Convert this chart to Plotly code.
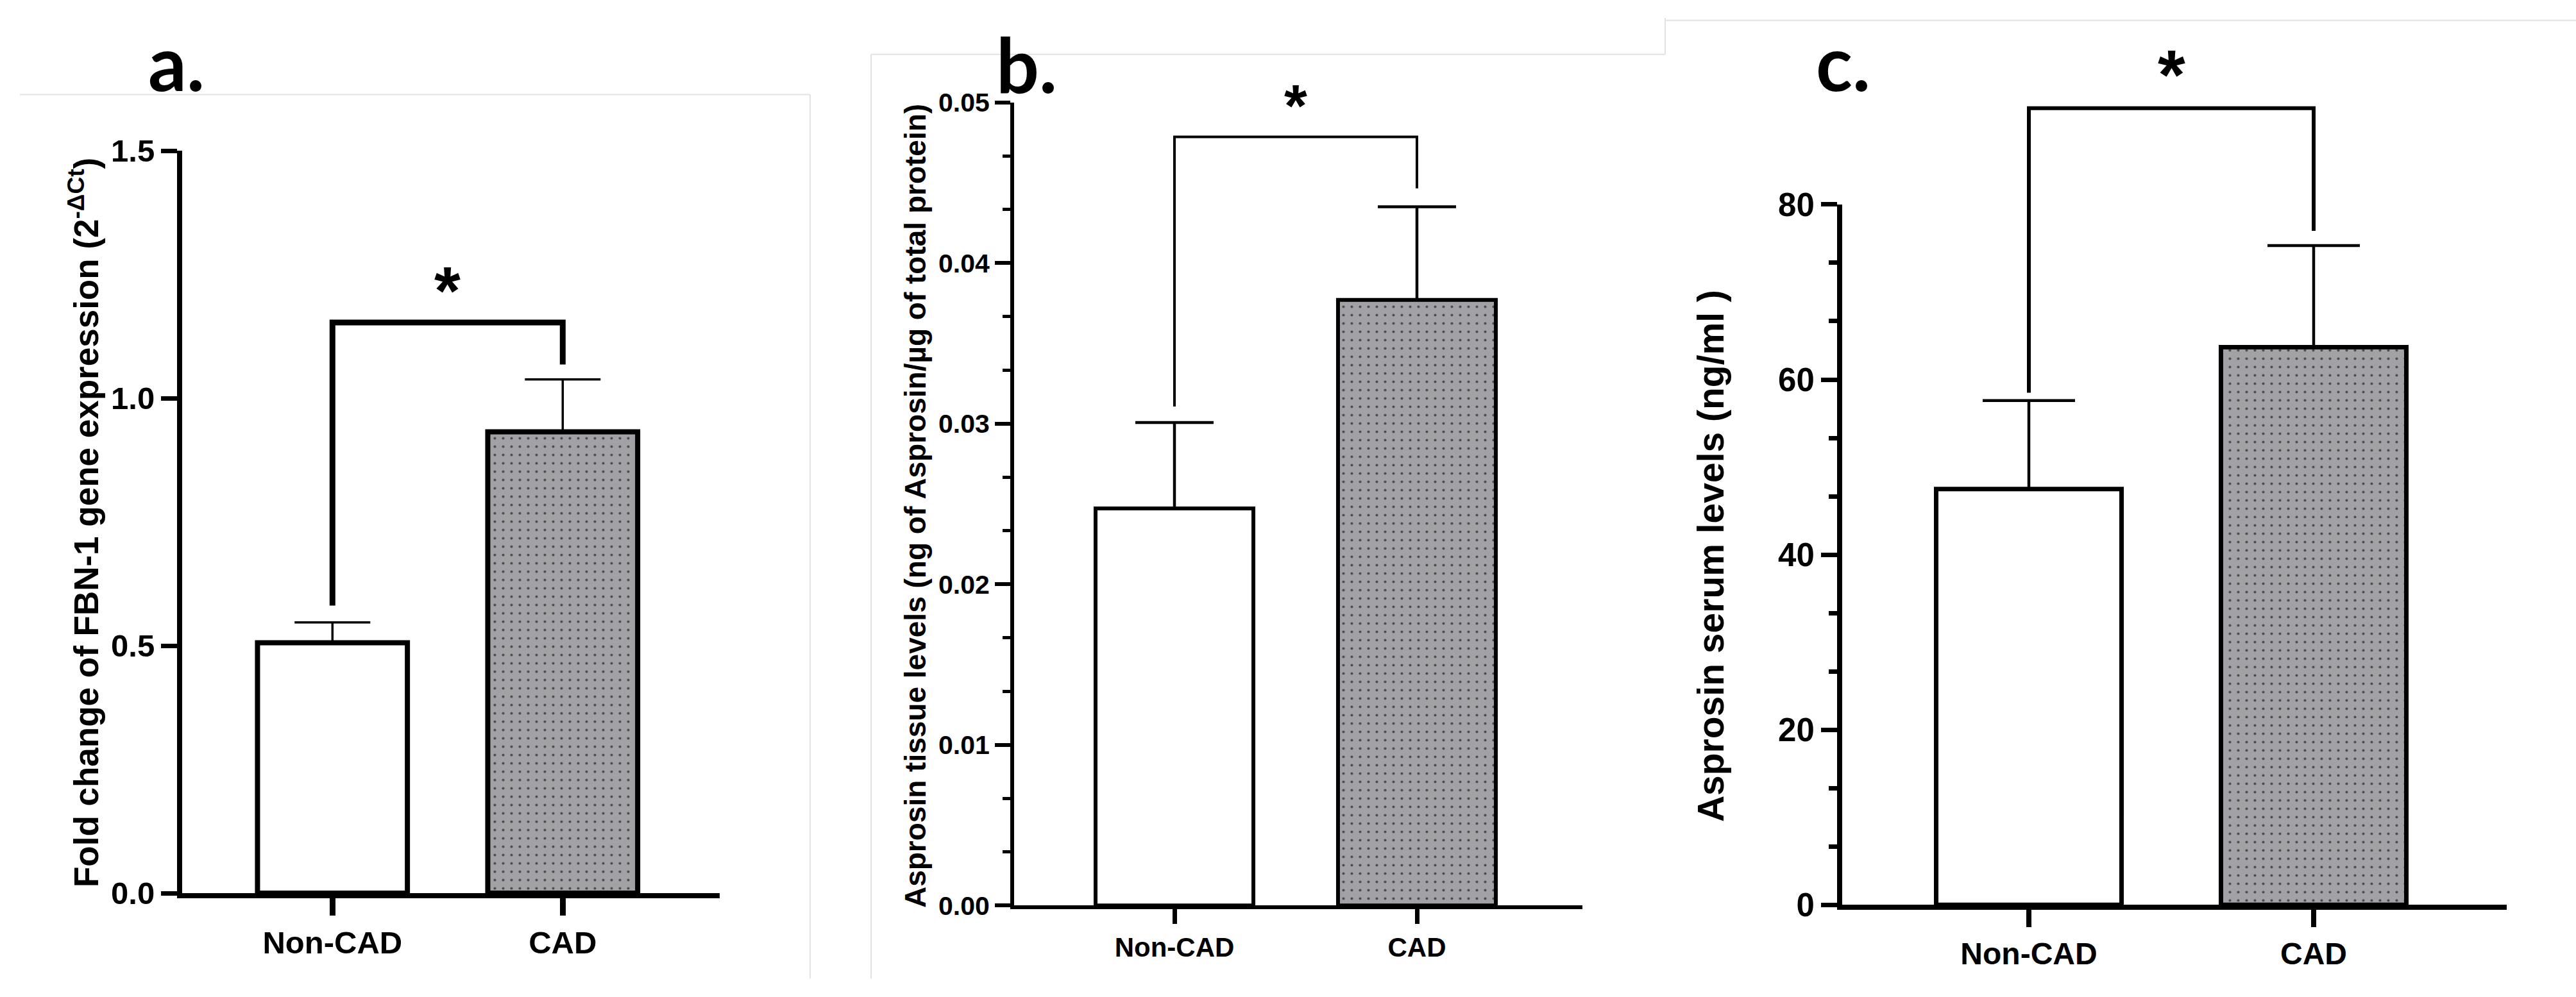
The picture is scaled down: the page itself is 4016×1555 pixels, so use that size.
import plotly.graph_objects as go

W, H = 4016, 1555

# ---------------- data ----------------
categories = ["Non-CAD", "CAD"]

# a. FBN-1 fold change
fbn1_mean = [0.506, 0.932]
fbn1_sem = [0.041, 0.106]
fbn1_bracket_top = 1.153
fbn1_bracket_ends = [0.581, 1.068]
fbn1_star = 1.21
fbn1_ticks = [0.0, 0.5, 1.0, 1.5]

# b. Asprosin tissue levels
tissue_mean = [0.02473, 0.03771]
tissue_sem = [0.00535, 0.00580]
tissue_bracket_top = 0.04786
tissue_bracket_ends = [0.03107, 0.04466]
tissue_star = 0.0496
tissue_ticks = [0.00, 0.01, 0.02, 0.03, 0.04, 0.05]

# c. Asprosin serum levels
serum_mean = [47.5, 63.7]
serum_sem = [10.1, 11.6]
serum_bracket_top = 91.0
serum_bracket_ends = [58.5, 77.0]
serum_star = 94.5
serum_ticks = [0, 20, 40, 60, 80]

panel_letters = ["a.", "b.", "c."]
y_titles = [
    "Fold change of FBN-1 gene expression (2<sup>-\u0394Ct</sup>)",
    "Asprosin tissue levels (ng of Asprosin/\u00b5g of total protein)",
    "Asprosin serum levels (ng/ml )",
]

# ---------------- layout / style per panel (pixel geometry) ----------------
panels = [
    dict(mean=fbn1_mean, sem=fbn1_sem, btop=fbn1_bracket_top, bends=fbn1_bracket_ends,
         star=fbn1_star, ticks=fbn1_ticks, fmt=".1f", minor=None,
         axis_x=280, axis_y=1421, top=215, right=1122, c0=518.3, c1=877.3,
         lw=8, bar_lw=8, tick_len=25, tick_w=7, xtick_len=27, xtick_w=9,
         minor_len=0, minor_w=0, err_w=3.5, cap=59, br_w=9, star_size=105,
         ytick_size=49, xtick_size=49, title_size=53, title_xy=(130, 817),
         letter_xy=(230, 142)),
    dict(mean=tissue_mean, sem=tissue_sem, btop=tissue_bracket_top, bends=tissue_bracket_ends,
         star=tissue_star, ticks=tissue_ticks, fmt=".2f", minor=0.01 / 3,
         axis_x=1578, axis_y=1440, top=137, right=2467, c0=1831, c1=2209,
         lw=6, bar_lw=6, tick_len=24, tick_w=6, xtick_len=23, xtick_w=7,
         minor_len=12, minor_w=5, err_w=4.5, cap=61, br_w=4, star_size=92,
         ytick_size=41, xtick_size=42, title_size=46, title_xy=(1427, 790),
         letter_xy=(1552, None)),
    dict(mean=serum_mean, sem=serum_sem, btop=serum_bracket_top, bends=serum_bracket_ends,
         star=serum_star, ticks=serum_ticks, fmt="d", minor=20 / 3,
         axis_x=2868, axis_y=1440, top=302, right=3908, c0=3163, c1=3607,
         lw=8, bar_lw=7, tick_len=25, tick_w=7, xtick_len=27, xtick_w=8,
         minor_len=13, minor_w=7, err_w=4.5, cap=72, br_w=6, star_size=110,
         ytick_size=51, xtick_size=48, title_size=57, title_xy=(2667, 871),
         letter_xy=(2830, 142)),
]

FONT = "Liberation Sans, Arial, sans-serif"
LETTER_FONT = "Lato, Carlito, sans-serif"
LETTER_SIZE = 118
GRAY = "#a2a2a6"

fig = go.Figure()
layout = dict(width=W, height=H, margin=dict(l=0, r=0, t=0, b=0),
              paper_bgcolor="white", plot_bgcolor="rgba(0,0,0,0)", showlegend=False)
annotations = []
shapes = []

for i, p in enumerate(panels):
    k = i + 1
    xa = "x" if k == 1 else f"x{k}"
    ya = "y" if k == 1 else f"y{k}"
    yb = f"y{k + 3}"
    xkey = "xaxis" if k == 1 else f"xaxis{k}"
    ykey = "yaxis" if k == 1 else f"yaxis{k}"
    ybkey = f"yaxis{k + 3}"

    left_px = p["axis_x"] + p["lw"] / 2
    bottom_px = p["axis_y"] - p["lw"] / 2
    unit = p["c1"] - p["c0"]
    xr = [(left_px - p["c0"]) / unit, (p["right"] - p["c0"]) / unit]
    d0 = 1 - bottom_px / H
    d1 = 1 - p["top"] / H
    ymax = p["ticks"][-1]
    d1e = 1 - 8 / H
    ymax_ext = ymax * (d1e - d0) / (d1 - d0)

    layout[xkey] = dict(
        domain=[left_px / W, p["right"] / W], range=xr, type="category",
        categoryorder="array", categoryarray=categories,
        ticks="outside", ticklen=p["xtick_len"], tickwidth=p["xtick_w"], tickcolor="black",
        showline=True, linewidth=p["lw"], linecolor="black", showgrid=False, zeroline=False,
        tickfont=dict(family=FONT, size=p["xtick_size"], color="black", weight="bold"),
        anchor=ya, fixedrange=True,
    )
    yax = dict(
        domain=[d0, d1], range=[0, ymax], tickmode="array", tickvals=p["ticks"],
        tickformat=p["fmt"],
        ticks="outside", ticklen=p["tick_len"], tickwidth=p["tick_w"], tickcolor="black",
        showline=True, linewidth=p["lw"], linecolor="black", showgrid=False, zeroline=False,
        tickfont=dict(family=FONT, size=p["ytick_size"], color="black", weight="bold"),
        anchor=xa, fixedrange=True,
    )
    if p["minor"]:
        yax["minor"] = dict(ticks="outside", ticklen=p["minor_len"], tickwidth=p["minor_w"],
                            tickcolor="black", tickmode="linear", tick0=0, dtick=p["minor"],
                            showgrid=False)
    layout[ykey] = yax
    layout[ybkey] = dict(domain=[d0, d1e], range=[0, ymax_ext], visible=False,
                         anchor=xa, fixedrange=True)

    fig.add_trace(go.Bar(
        x=categories, y=p["mean"], width=0.651, xaxis=xa, yaxis=ya,
        marker=dict(
            color=["white", GRAY],
            line=dict(color="black", width=p["bar_lw"]),
            pattern=dict(shape=["", "."], size=13, solidity=0.08,
                         fgcolor="#303030", fgopacity=0.9, fillmode="overlay"),
        ),
        error_y=dict(type="data", array=p["sem"], arrayminus=[0, 0], symmetric=False,
                     color="black", thickness=p["err_w"], width=p["cap"]),
        hoverinfo="skip",
    ))

    fig.add_trace(go.Scatter(
        x=[categories[0], categories[0], categories[1], categories[1]],
        y=[p["bends"][0], p["btop"], p["btop"], p["bends"][1]],
        mode="lines", line=dict(color="black", width=p["br_w"]),
        xaxis=xa, yaxis=yb, hoverinfo="skip",
    ))

    annotations.append(dict(
        x=0.5, y=p["star"], xref=xa, yref=yb, text="*", showarrow=False,
        xanchor="center", yanchor="middle", yshift=0.05 * p["star_size"],
        font=dict(family=FONT, size=p["star_size"], color="black", weight="bold"),
    ))
    tx, ty = p["title_xy"]
    annotations.append(dict(
        x=tx / W, y=1 - ty / H, xref="paper", yref="paper", text=y_titles[i],
        showarrow=False, textangle=-90, xanchor="center", yanchor="middle",
        font=dict(family=FONT, size=p["title_size"], color="black", weight="bold"),
    ))
    lx, lbase = p["letter_xy"]
    if lbase is None:
        ly, lanchor = 1.0, "top"
    else:
        ly, lanchor = 1 - (lbase - 0.6 * LETTER_SIZE) / H, "middle"
    annotations.append(dict(
        x=lx / W, y=ly, xref="paper", yref="paper",
        text=panel_letters[i], showarrow=False, xanchor="left", yanchor=lanchor,
        borderpad=0,
        font=dict(family=LETTER_FONT, size=LETTER_SIZE, color="black", weight="bold"),
    ))

# faint borders of the composed panels
border_lines = [
    (31, 124, 1263, 124), (1263, 124, 1263, 1555),
    (1358, 59, 2596, 59), (1358, 59, 1358, 1555), (2596, 0, 2596, 59),
    (2596, 4, 4016, 4),
]
for x0, y0, x1, y1 in border_lines:
    shapes.append(dict(type="line", xref="paper", yref="paper",
                       x0=x0 / W, x1=x1 / W, y0=1 - y0 / H, y1=1 - y1 / H,
                       line=dict(color="#e2e2e2", width=2), layer="below"))

layout["annotations"] = annotations
layout["shapes"] = shapes
fig.update_layout(**layout)

fig.write_html("out.html")
